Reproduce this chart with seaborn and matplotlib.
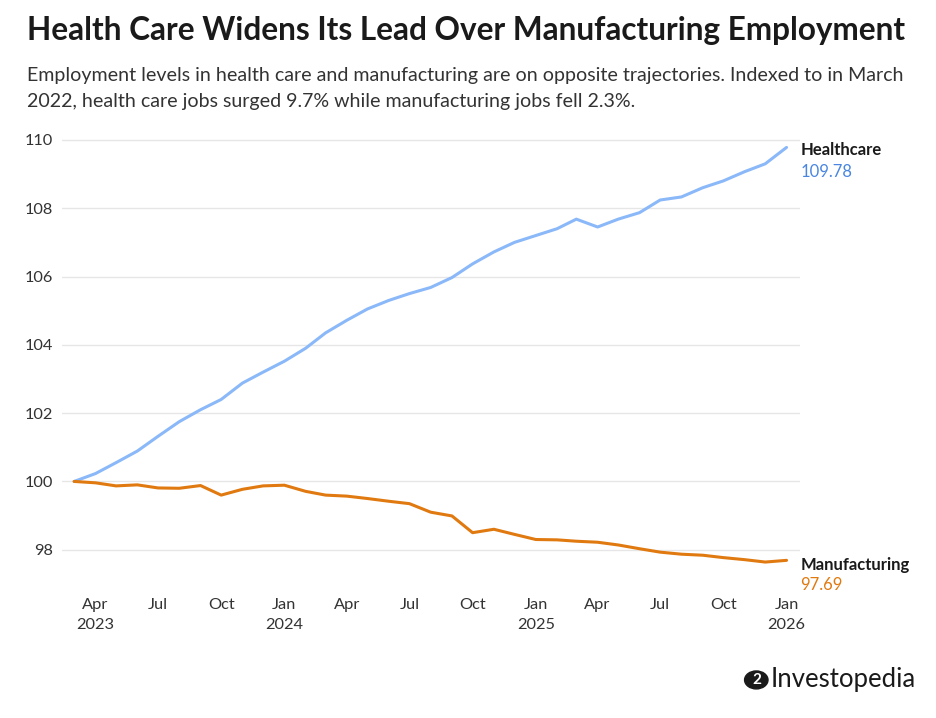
import pandas as pd
import seaborn as sns
import matplotlib.pyplot as plt
from matplotlib.patches import Circle

months = pd.date_range('2023-03-01', '2026-01-01', freq='MS')

healthcare = [100.0, 100.23, 100.55, 100.89, 101.32, 101.75, 102.1, 102.4, 102.88, 103.2,
              103.52, 103.9, 104.35, 104.72, 105.05, 105.3, 105.5, 105.68, 105.97, 106.37,
              106.72, 107.0, 107.2, 107.4, 107.68, 107.45, 107.68, 107.87, 108.24, 108.33,
              108.6, 108.8, 109.07, 109.3, 109.78]
manufacturing = [100.0, 99.96, 99.87, 99.9, 99.81, 99.8, 99.88, 99.6, 99.77, 99.87,
                 99.89, 99.71, 99.6, 99.57, 99.5, 99.42, 99.35, 99.1, 98.99, 98.5,
                 98.6, 98.45, 98.3, 98.29, 98.25, 98.22, 98.14, 98.03, 97.93, 97.87,
                 97.84, 97.77, 97.71, 97.64, 97.69]

tick_dates = ['2023-04-01', '2023-07-01', '2023-10-01', '2024-01-01', '2024-04-01', '2024-07-01',
              '2024-10-01', '2025-01-01', '2025-04-01', '2025-07-01', '2025-10-01', '2026-01-01']
tick_labels = ['Apr\n2023', 'Jul', 'Oct', 'Jan\n2024', 'Apr', 'Jul',
               'Oct', 'Jan\n2025', 'Apr', 'Jul', 'Oct', 'Jan\n2026']
y_ticks = [98, 100, 102, 104, 106, 108, 110]

blue = '#8ab8f8'
orange = '#e07a10'

df = pd.DataFrame({'date': months, 'Healthcare': healthcare, 'Manufacturing': manufacturing})
long = df.melt(id_vars='date', var_name='sector', value_name='index')

sns.set_theme(style='white')
plt.rcParams['font.family'] = ['Lato', 'DejaVu Sans']

fig = plt.figure(figsize=(9.36, 7.18), dpi=100)
ax = fig.add_axes([0.066, 0.182, 0.789, 0.626])

sns.lineplot(data=long, x='date', y='index', hue='sector',
             palette={'Healthcare': blue, 'Manufacturing': orange},
             linewidth=2.2, legend=False, ax=ax)

ax.set_ylim(96.9, 110.06)
ax.set_xlim(pd.Timestamp('2023-02-11'), pd.Timestamp('2026-01-21'))
ax.set_yticks(y_ticks)
ax.set_yticklabels([str(v) for v in y_ticks])
ax.set_xticks(pd.to_datetime(tick_dates))
ax.set_xticklabels(tick_labels, linespacing=1.55)
ax.grid(axis='y', color='#e6e6e6', linewidth=1)
ax.set_axisbelow(True)
for s in ax.spines.values():
    s.set_visible(False)
ax.tick_params(axis='both', length=0, labelsize=11.8, colors='#333333')
ax.tick_params(axis='y', pad=6)
ax.tick_params(axis='x', pad=8)
ax.set_xlabel('')
ax.set_ylabel('')

# end labels
last = months[-1]
ax.annotate('Healthcare', xy=(last, healthcare[-1]), xytext=(10, -1.5), textcoords='offset points',
            fontsize=12, fontweight='bold', color='#1a1a1a', va='center', annotation_clip=False)
ax.annotate(f'{healthcare[-1]:.2f}', xy=(last, healthcare[-1]), xytext=(10, -18), textcoords='offset points',
            fontsize=12, color='#4a86e0', va='center', annotation_clip=False)
ax.annotate('Manufacturing', xy=(last, manufacturing[-1]), xytext=(10, -3), textcoords='offset points',
            fontsize=12, fontweight='bold', color='#1a1a1a', va='center', annotation_clip=False)
ax.annotate(f'{manufacturing[-1]:.2f}', xy=(last, manufacturing[-1]), xytext=(10, -18), textcoords='offset points',
            fontsize=12, color=orange, va='center', annotation_clip=False)

fig.text(0.029, 0.958, 'Health Care Widens Its Lead Over Manufacturing Employment',
         fontsize=22.7, fontweight='bold', color='#1a1a1a', va='center', ha='left')
fig.text(0.029, 0.877, 'Employment levels in health care and manufacturing are on opposite trajectories. Indexed to in March\n'
         '2022, health care jobs surged 9.7% while manufacturing jobs fell 2.3%.',
         fontsize=14.1, color='#333333', va='center', ha='left', linespacing=1.6)

# logo
fig.patches.append(Circle((0.808, 0.053), 0.0125, transform=fig.transFigure, color='#1a1a1a'))
fig.text(0.8085, 0.053, '2', fontsize=11, fontweight='bold', color='white', ha='center', va='center')
fig.text(0.823, 0.053, 'Investopedia', fontsize=18.5, color='#1a1a1a', ha='left', va='center')

fig.savefig('out.png', dpi=100)
